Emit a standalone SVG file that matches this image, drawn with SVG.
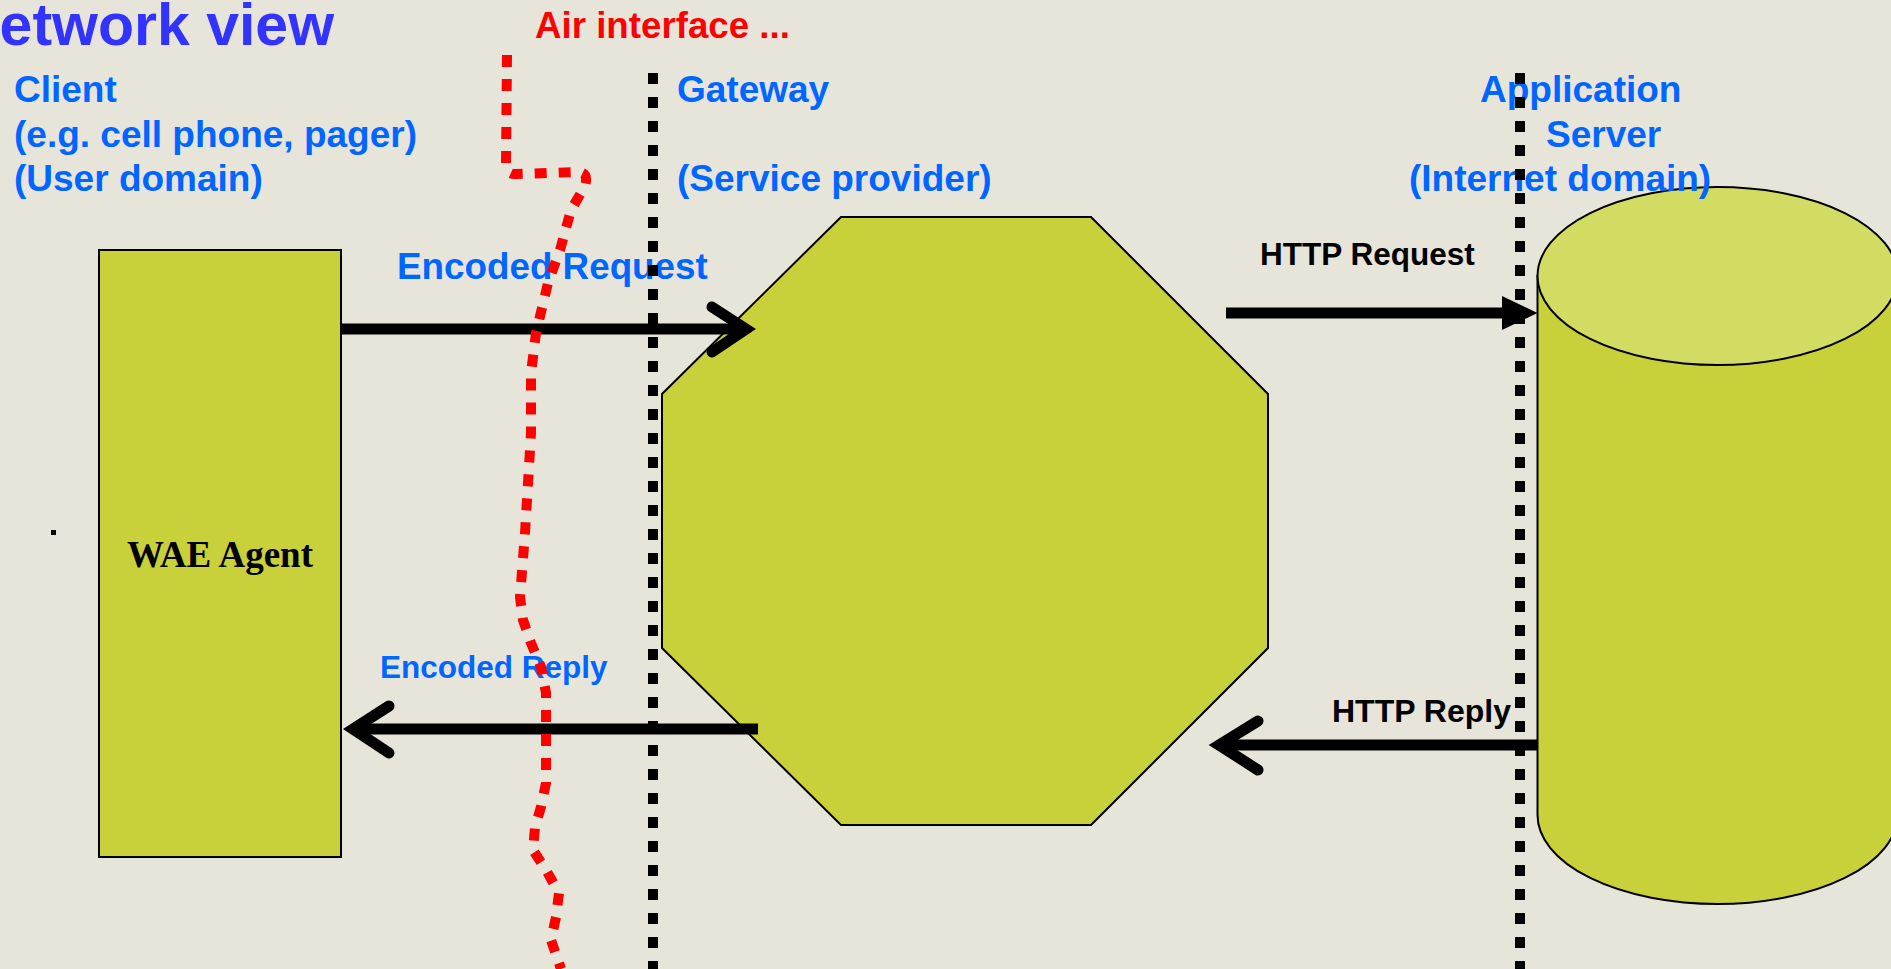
<svg xmlns="http://www.w3.org/2000/svg" width="1891" height="969" viewBox="0 0 1891 969">
<style>
.lbl{font-family:"Liberation Sans",Arial,sans-serif;font-weight:bold;fill:#0066ff;font-size:37px}
.blk{font-family:"Liberation Sans",Arial,sans-serif;font-weight:bold;fill:#000;font-size:31px}
.shape{fill:#c8d13a;stroke:#000;stroke-width:2}
.arrow{fill:none;stroke:#000;stroke-width:11}
.chev{fill:none;stroke:#000;stroke-width:11;stroke-linecap:round;stroke-linejoin:miter}
.bdot{fill:none;stroke:#000;stroke-width:10;stroke-dasharray:11 13}
.rdot{fill:none;stroke:#ff0000;stroke-width:10;stroke-dasharray:12 12}
</style>
<rect x="0" y="0" width="1891" height="969" fill="#e7e5da"/>
<text x="-43" y="45" style="font-family:'Liberation Sans',Arial,sans-serif;font-weight:bold;font-size:59px;fill:#3333ff">Network view</text>
<g id="labels">
<text x="535" y="38" style="font-family:'Liberation Sans',Arial,sans-serif;font-weight:bold;font-size:36.7px;fill:#ff0000">Air interface ...</text>
<text class="lbl" x="14" y="102">Client</text>
<text class="lbl" x="14" y="147">(e.g. cell phone, pager)</text>
<text class="lbl" x="14" y="191">(User domain)</text>
<text class="lbl" x="677" y="102">Gateway</text>
<text class="lbl" x="677" y="191">(Service provider)</text>
</g>
<g id="client">
<rect class="shape" x="99" y="250" width="242" height="607"/>
<text x="220" y="567" text-anchor="middle" style="font-family:'Liberation Serif','Times New Roman',serif;font-weight:bold;font-size:37px;fill:#000">WAE Agent</text>
</g>
<g id="gateway">
<polygon class="shape" points="841,217 1091,217 1268,394 1268,648 1091,825 841,825 662,648 662,394"/>
</g>
<g id="server">
<path class="shape" d="M1537.5,276 V815 A180,89 0 0 0 1897.5,815 V276 Z"/>
<ellipse cx="1717.5" cy="276" rx="180" ry="89" fill="#d3dc62" stroke="#000" stroke-width="2"/>
</g>
<g id="server-labels">
<text class="lbl" x="1480" y="102">Application</text>
<text class="lbl" x="1546" y="147">Server</text>
<text class="lbl" x="1409" y="191">(Internet domain)</text>
</g>
<g id="connectors">
<text class="lbl" x="397" y="279" style="font-size:36.8px">Encoded Request</text>
<line class="arrow" x1="341" y1="329" x2="746" y2="329"/>
<polyline class="chev" points="712,307 746,329 712,352"/>
<text class="lbl" x="380" y="678" style="font-size:31.5px">Encoded Reply</text>
<line class="arrow" x1="758" y1="729" x2="353" y2="729"/>
<polyline class="chev" points="389,706 353,729 389,753"/>
<text class="blk" x="1260" y="265" style="font-size:31.5px">HTTP Request</text>
<line class="arrow" x1="1226" y1="313" x2="1505" y2="313"/>
<polygon points="1537.5,313 1502,296 1502,330" fill="#000"/>
<text class="blk" x="1332" y="722" style="font-size:32px">HTTP Reply</text>
<line class="arrow" x1="1537" y1="745" x2="1219" y2="745"/>
<polyline class="chev" points="1258,721 1219,745 1258,770"/>
</g>
<g id="boundaries">
<line class="bdot" x1="653" y1="73" x2="653" y2="969"/>
<line class="bdot" x1="1520" y1="73" x2="1520" y2="969"/>
<path class="rdot" d="M507,55 L506,163 Q506,175 516,174 L578,172 Q589,172 585,186 L571,210 L560,250 L548,283 L536,333 L531,373 L531,433 L525,533 L520,597 L523,620 L531,643 L541,667 L546,693 L546,783 L541,807 L535,827 L533,850 L546,870 L559,893 L556,917 L551,940 L561,969"/>
</g>
<rect x="51" y="530" width="5" height="5" fill="#000"/>
</svg>
